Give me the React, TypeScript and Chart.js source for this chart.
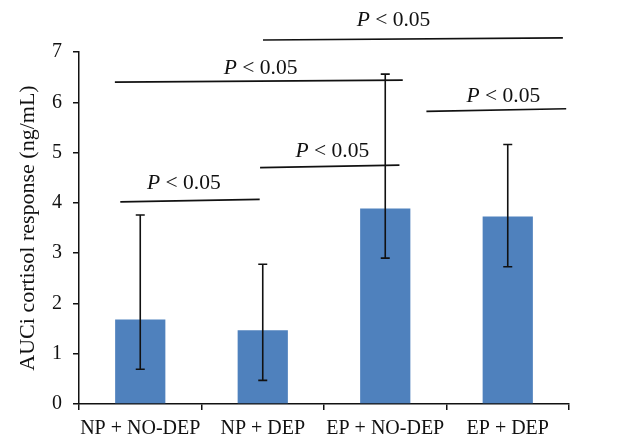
import React, { useEffect, useRef } from 'react';
import { Chart, registerables } from 'chart.js';
Chart.register(...registerables);

const categories = ['NP + NO-DEP', 'NP + DEP', 'EP + NO-DEP', 'EP + DEP'];
const means = [1.68, 1.465, 3.89, 3.73];
const errLow = [0.69, 0.47, 2.9, 2.73];
const errHigh = [3.76, 2.78, 6.56, 5.16];
const yMin = 0;
const yMax = 7;
const yStep = 1;
const yTitle = 'AUCi cortisol response (ng/mL)';

// significance brackets (x in category-index units, y in ng/mL)
const sigItalic = 'P';
const sigRest = ' < 0.05';
const sigX1 = [-0.163, 0.978, -0.207, 2.336, 1.002];
const sigX2 = [0.975, 2.116, 2.143, 3.477, 3.45];
const sigY1 = [4.02, 4.7, 6.4, 5.82, 7.24];
const sigY2 = [4.07, 4.75, 6.44, 5.87, 7.28];
const sigTextX = [0.356, 1.568, 0.983, 2.964, 2.067];
const sigTextY = [4.39, 5.02, 6.67, 6.12, 7.62];

const FONT = '"Liberation Serif", "Times New Roman", serif';
const FS = 20;
const FS_SIG = 21.5;
const FS_TITLE = 22;

const overlay = {
  id: 'overlay',
  afterDatasetsDraw(chart: any) {
    const ctx = chart.ctx as CanvasRenderingContext2D;
    const xs = chart.scales.x;
    const ys = chart.scales.y;
    ctx.save();
    ctx.strokeStyle = '#111';
    ctx.lineWidth = 1.6;
    // error bars
    for (let i = 0; i < means.length; i++) {
      const x = xs.getPixelForValue(i);
      const yl = ys.getPixelForValue(errLow[i]);
      const yh = ys.getPixelForValue(errHigh[i]);
      ctx.beginPath();
      ctx.moveTo(x, yl);
      ctx.lineTo(x, yh);
      ctx.moveTo(x - 4.5, yl);
      ctx.lineTo(x + 4.5, yl);
      ctx.moveTo(x - 4.5, yh);
      ctx.lineTo(x + 4.5, yh);
      ctx.stroke();
    }
    // significance lines
    ctx.lineWidth = 1.6;
    for (let i = 0; i < sigX1.length; i++) {
      ctx.beginPath();
      ctx.moveTo(xs.getPixelForValue(sigX1[i]), ys.getPixelForValue(sigY1[i]));
      ctx.lineTo(xs.getPixelForValue(sigX2[i]), ys.getPixelForValue(sigY2[i]));
      ctx.stroke();
      const cx = xs.getPixelForValue(sigTextX[i]);
      const cy = ys.getPixelForValue(sigTextY[i]);
      ctx.fillStyle = '#111';
      ctx.textBaseline = 'middle';
      ctx.textAlign = 'left';
      ctx.font = `italic ${FS_SIG}px ${FONT}`;
      const w1 = ctx.measureText(sigItalic).width;
      ctx.font = `${FS_SIG}px ${FONT}`;
      const w2 = ctx.measureText(sigRest).width;
      const x0 = cx - (w1 + w2) / 2;
      ctx.font = `italic ${FS_SIG}px ${FONT}`;
      ctx.fillText(sigItalic, x0, cy);
      ctx.font = `${FS_SIG}px ${FONT}`;
      ctx.fillText(sigRest, x0 + w1, cy);
    }
    ctx.restore();
  },
};

export default function App() {
  const ref = useRef<HTMLCanvasElement>(null);
  useEffect(() => {
    if (!ref.current) return;
    const chart = new Chart(ref.current, {
      type: 'bar',
      data: {
        labels: categories,
        datasets: [
          {
            data: means,
            backgroundColor: '#4F81BD',
            borderWidth: 0,
            categoryPercentage: 1,
            barPercentage: 0.41,
          },
        ],
      },
      options: {
        animation: false,
        responsive: false,
        layout: { padding: { top: 52, right: 70, left: 0, bottom: 0 } },
        plugins: { legend: { display: false }, tooltip: { enabled: false } },
        scales: {
          x: {
            offset: true,
            grid: {
              drawOnChartArea: false,
              offset: true,
              tickLength: 6,
              color: '#111',
              lineWidth: 1.5,
            },
            border: { color: '#111', width: 1.5 },
            ticks: { color: '#111', font: { family: FONT, size: FS }, padding: 7, maxRotation: 0, autoSkip: false },
            afterFit: (s: any) => {
              s.height = 44;
            },
          },
          y: {
            min: yMin,
            max: yMax,
            ticks: { stepSize: yStep, color: '#111', font: { family: FONT, size: FS }, padding: 11 },
            grid: { drawOnChartArea: false, tickLength: 6, color: '#111', lineWidth: 1.5 },
            border: { color: '#111', width: 1.5 },
            title: {
              display: true,
              text: yTitle,
              color: '#111',
              font: { family: FONT, size: FS_TITLE },
              padding: { top: 15, bottom: 0 },
            },
            afterFit: (s: any) => {
              s.width = 79;
            },
          },
        },
      },
      plugins: [overlay],
    });
    return () => chart.destroy();
  }, []);
  return (
    <div style={{ position: 'absolute', left: 0, top: 0, width: 639, height: 448, background: '#fff' }}>
      <canvas ref={ref} width={639} height={448} />
    </div>
  );
}
